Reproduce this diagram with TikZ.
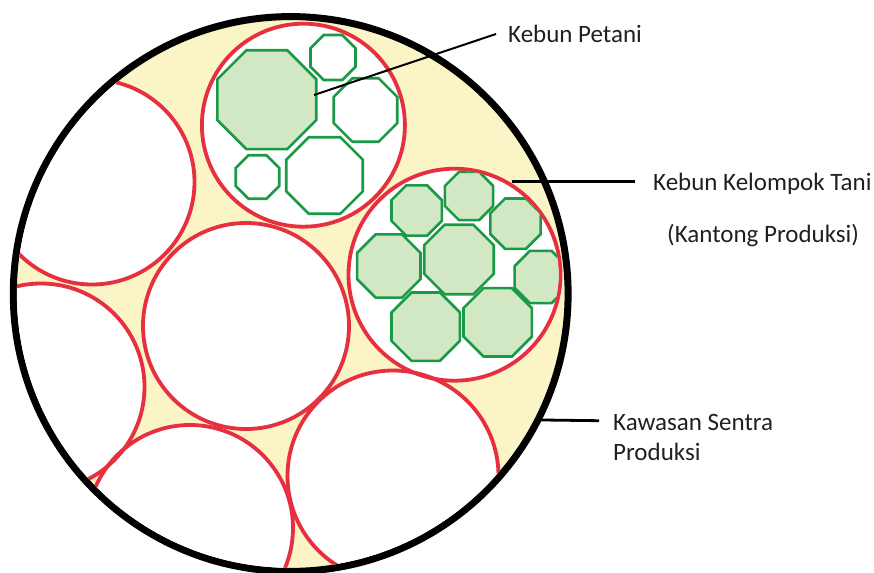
\documentclass[tikz,border=0pt]{standalone}
\usepackage{fontspec}
\setmainfont{Carlito}
\usetikzlibrary{shapes.geometric}
\definecolor{cy}{HTML}{FBF4C6}
\definecolor{cr}{HTML}{E7303F}
\definecolor{cg}{HTML}{1A9A46}
\definecolor{cgf}{HTML}{D2E7C3}
\definecolor{ct}{HTML}{231F20}
\tikzset{
  area/.style={circle, draw=black, fill=cy, line width=7pt, minimum size=554.8pt, inner sep=0pt, outer sep=0pt},
  zone/.style={circle, draw=cr, line width=3.8pt, inner sep=0pt, outer sep=0pt},
  oct/.style={regular polygon, regular polygon sides=8, draw=cg, line width=2.6pt, inner sep=0pt, fill=white},
  octf/.style={oct, fill=cgf},
  lbl/.style={anchor=base west, inner sep=0pt, text=ct, font=\fontsize{25}{30}\selectfont},
  lead/.style={draw=black, line width=2.8pt},
  leadthin/.style={draw=black, line width=2pt},
}
\begin{document}
\begin{tikzpicture}[x=1pt,y=-1pt]
\useasboundingbox (0,0) rectangle (874,572);
% production area
\node[area] (area) at (290.7,294) {};
\begin{scope}
  \clip (290.7,294) circle[radius=273.8pt];
  % white interiors of the pockets
  \fill[white] (92,182) circle[radius=102.5pt];
  \fill[white] (41,387) circle[radius=103.5pt];
  \fill[white] (246,326) circle[radius=103pt];
  \fill[white] (303.4,125.2) circle[radius=101.5pt];
  \fill[white] (454.5,274.7) circle[radius=106pt];
  \fill[white] (190,528) circle[radius=103pt];
  \fill[white] (393,476) circle[radius=105.5pt];
  % pocket outlines
  \node[zone, minimum size=205pt] (z1) at (92,182) {};
  \node[zone, minimum size=207pt] (z2) at (41,387) {};
  \node[zone, minimum size=206pt] (z3) at (246,326) {};
  \node[zone, minimum size=203pt] (kp) at (303.4,125.2) {};
  \node[zone, minimum size=212pt] (kk) at (454.5,274.7) {};
  \node[zone, minimum size=206pt] (z6) at (190,528) {};
  \node[zone, minimum size=211pt] (z7) at (393,476) {};
\end{scope}
% farmer gardens in the upper pocket
\node[octf, minimum size=107pt] (p1) at (266.8,99.7) {};
\node[oct, minimum size=48.7pt] (p2) at (333,57.5) {};
\node[oct, minimum size=68.7pt] (p3) at (365.5,110) {};
\node[oct, minimum size=82.8pt] (p4) at (324.5,175.5) {};
\node[oct, minimum size=47pt] (p5) at (257.5,177) {};
% farmer gardens in the right pocket
\begin{scope}
  \clip (454.5,274.7) circle[radius=104.2pt];
  \node[octf, minimum size=54.5pt] (q1) at (416.7,210.5) {};
  \node[octf, minimum size=52.3pt] (q2) at (469,196) {};
  \node[octf, minimum size=54.5pt] (q3) at (515.5,223.7) {};
  \node[octf, minimum size=68.6pt] (q4) at (388.8,266) {};
  \node[octf, minimum size=75.2pt] (q5) at (459,259.5) {};
  \node[octf, minimum size=56.6pt] (q6) at (540.8,277) {};
  \node[octf, minimum size=74.1pt] (q7) at (425.7,326.7) {};
  \node[octf, minimum size=74.1pt] (q8) at (497.7,322.3) {};
\end{scope}
% labels
\node[lbl] (tPetani) at (508,42.7) {Kebun Petani};
\node[lbl] (tKelompok) at (653,190) {Kebun Kelompok Tani};
\node[lbl] (tKantong) at (667,242) {(Kantong Produksi)};
\node[lbl] (tKawasan) at (613,430) {Kawasan Sentra};
\node[lbl] (tProduksi) at (613,460) {Produksi};
% leader lines
\coordinate (aPetani) at (314,95);
\coordinate (ePetani) at (496,34);
\draw[leadthin] (aPetani) -- (ePetani);
\coordinate (aKelompok) at (511.7,181.7);
\coordinate (eKelompok) at (635,181.7);
\draw[lead] (aKelompok) -- (eKelompok);
\coordinate (eKawasan) at (599,420.7);
\draw[lead] (area.-27.2) -- (eKawasan);
\end{tikzpicture}
\end{document}
